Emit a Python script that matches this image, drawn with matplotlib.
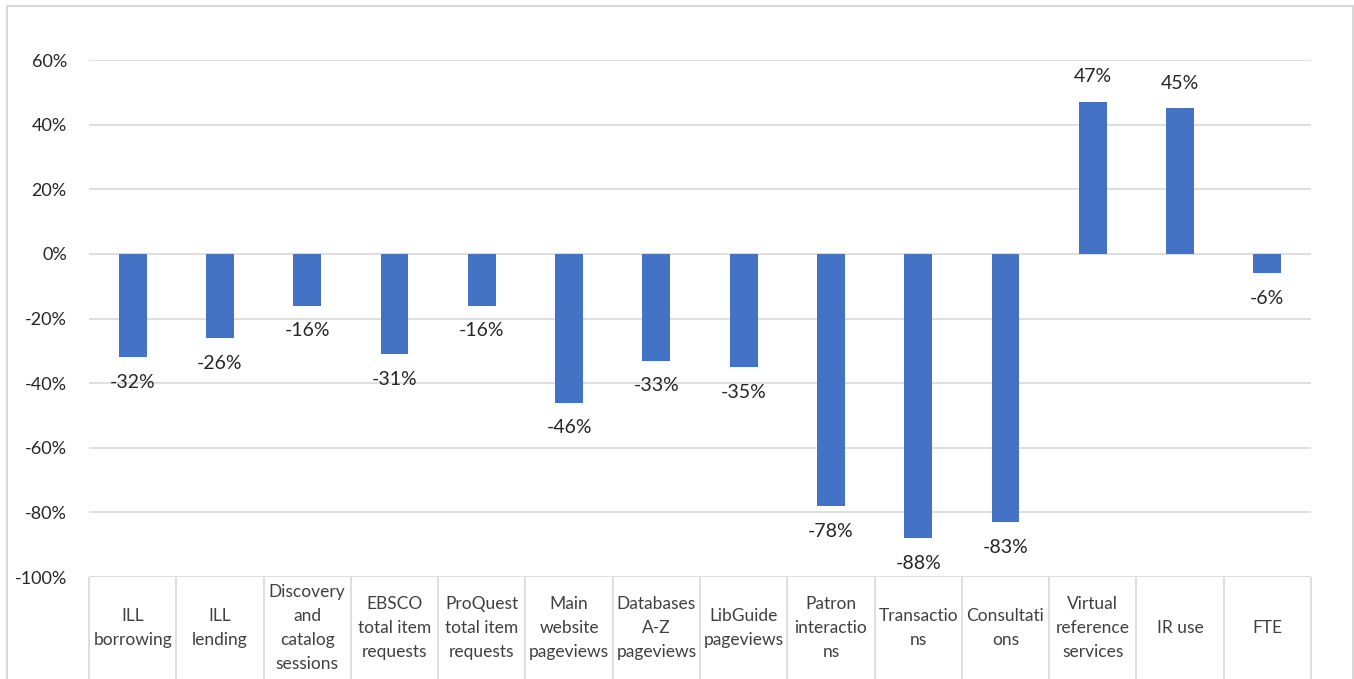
import numpy as np
import matplotlib.pyplot as plt
from matplotlib.patches import Rectangle
from matplotlib.ticker import FuncFormatter

plt.rcParams['font.family'] = ['Lato', 'DejaVu Sans']

# 各项指标的变化率（%）
categories = ["ILL\nborrowing", "ILL\nlending", "Discovery\nand\ncatalog\nsessions",
              "EBSCO\ntotal item\nrequests", "ProQuest\ntotal item\nrequests",
              "Main\nwebsite\npageviews", "Databases\nA-Z\npageviews",
              "LibGuide\npageviews", "Patron\ninteractio\nns", "Transactio\nns",
              "Consultati\nons", "Virtual\nreference\nservices", "IR use", "FTE"]
changes = [-32, -26, -16, -31, -16, -46, -33, -35, -78, -88, -83, 47, 45, -6]

bar_color = '#4472C4'
grid_color = '#d9d9d9'
text_color = '#404040'

fig = plt.figure(figsize=(13.54, 6.79), dpi=100)
ax = fig.add_axes([89 / 1354, 1 - 577 / 679, (1311 - 89) / 1354, (577 - 60) / 679])

x = np.arange(len(categories))
vals = np.array(changes) / 100.0
ax.bar(x, vals, width=0.32, color=bar_color, zorder=3)

ax.set_xlim(-0.5, len(categories) - 0.5)
ax.set_ylim(-1.0, 0.6)
ax.set_yticks(np.arange(-1.0, 0.61, 0.2))
ax.yaxis.set_major_formatter(FuncFormatter(lambda v, p: f"{round(v * 100):d}%"))
ax.tick_params(axis='y', length=0, pad=16, labelsize=13, labelcolor='#262626')
ax.set_xticks([])
ax.grid(axis='y', color=grid_color, linewidth=1.2, zorder=0)
for s in ax.spines.values():
    s.set_visible(False)

# 数据标签
for xi, v, c in zip(x, vals, changes):
    if v < 0:
        ax.annotate(f"{c}%", (xi, v), xytext=(0, -12), textcoords='offset points',
                    ha='center', va='top', fontsize=14, color='#262626')
    else:
        ax.annotate(f"{c}%", (xi, v), xytext=(0, 12), textcoords='offset points',
                    ha='center', va='bottom', fontsize=14, color='#262626')

# 底部类别表格
ax.vlines(np.arange(len(categories) + 1) - 0.5, -1.4, -1.0, colors=grid_color,
          linewidth=1.2, clip_on=False)
for xi, lab in zip(x, categories):
    ax.text(xi, -1.157, lab, ha='center', va='center', fontsize=12.5,
            color=text_color, linespacing=1.62, clip_on=False)

# 图表外框
fig.add_artist(Rectangle((7 / 1354, -0.1), (1353 - 7) / 1354, 1.1 - 6 / 679,
                         transform=fig.transFigure, fill=False,
                         edgecolor='#d9d9d9', linewidth=1.5))

fig.savefig('out.png', dpi=100)
